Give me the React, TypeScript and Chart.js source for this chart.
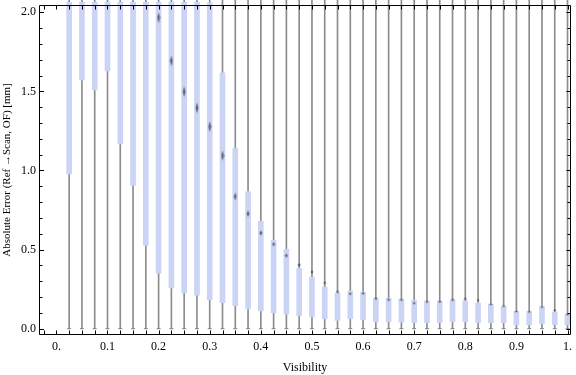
import React, { useEffect, useRef } from "react";
import { Chart, registerables } from "chart.js";
Chart.register(...registerables);

const visibility = [
  0.025, 0.05, 0.075, 0.1, 0.125, 0.15, 0.175, 0.2, 0.225, 0.25,
  0.275, 0.3, 0.325, 0.35, 0.375, 0.4, 0.425, 0.45, 0.475, 0.5,
  0.525, 0.55, 0.575, 0.6, 0.625, 0.65, 0.675, 0.7, 0.725, 0.75,
  0.775, 0.8, 0.825, 0.85, 0.875, 0.9, 0.925, 0.95, 0.975, 1.0,
];
const whiskerLow = [
  0, 0, 0, 0, 0, 0, 0, 0, 0, 0,
  0, 0, 0, 0, 0, 0, 0, 0, 0, 0,
  0, 0, 0, 0, 0, 0, 0, 0, 0, 0,
  0, 0, 0, 0, 0, 0, 0, 0, 0, 0,
];
const whiskerHigh = [
  2.6, 2.6, 2.6, 2.6, 2.6, 2.6, 2.6, 2.6, 2.6, 2.6,
  2.6, 2.6, 2.6, 2.6, 2.6, 2.6, 2.6, 2.6, 2.6, 2.6,
  2.6, 2.6, 2.6, 2.6, 2.6, 2.6, 2.6, 2.6, 2.6, 2.6,
  2.6, 2.6, 2.6, 2.6, 2.6, 2.6, 2.6, 2.6, 2.6, 2.6,
];
const q1 = [
  0.979, 1.573, 1.51, 1.63, 1.168, 0.905, 0.527, 0.351, 0.258, 0.227,
  0.212, 0.183, 0.164, 0.145, 0.126, 0.113, 0.101, 0.093, 0.082, 0.076,
  0.063, 0.053, 0.063, 0.057, 0.044, 0.044, 0.042, 0.038, 0.038, 0.038,
  0.044, 0.044, 0.038, 0.038, 0.038, 0.025, 0.025, 0.032, 0.025, 0.025,
];
const q3 = [
  2.4, 2.4, 2.4, 2.4, 2.4, 2.4, 2.4, 2.4, 2.4, 2.4,
  2.4, 2.06, 1.617, 1.139, 0.866, 0.679, 0.559, 0.502, 0.382, 0.326,
  0.263, 0.225, 0.238, 0.231, 0.193, 0.193, 0.187, 0.181, 0.175, 0.175,
  0.183, 0.176, 0.162, 0.156, 0.143, 0.109, 0.109, 0.143, 0.105, 0.095,
];
const meanValues = [
  2.5, 2.4, 2.35, 2.3, 2.25, 2.2, 2.15, 1.966, 1.693, 1.498,
  1.396, 1.277, 1.094, 0.836, 0.727, 0.605, 0.534, 0.462, 0.403, 0.359,
  0.29, 0.233, 0.221, 0.223, 0.191, 0.183, 0.183, 0.162, 0.171, 0.171,
  0.183, 0.189, 0.18, 0.154, 0.143, 0.109, 0.107, 0.137, 0.116, 0.09,
];
const xMajorStep = 0.1;
const xMinorStep = 0.025;
const yStep = 0.1;
const yLabelStep = 0.5;

const markerCache = new Map<number, HTMLCanvasElement>();
function diamond(h: number): HTMLCanvasElement {
  const key = Math.round(h * 2) / 2;
  let c = markerCache.get(key);
  if (!c) {
    c = document.createElement("canvas");
    const w = 4;
    const H = Math.ceil(key) + 2;
    c.width = w;
    c.height = H;
    const g = c.getContext("2d")!;
    g.fillStyle = "rgba(70,70,75,0.75)";
    g.beginPath();
    g.moveTo(w / 2, (H - key) / 2);
    g.lineTo(w - 0.5, H / 2);
    g.lineTo(w / 2, (H + key) / 2);
    g.lineTo(0.5, H / 2);
    g.closePath();
    g.fill();
    markerCache.set(key, c);
  }
  return c;
}

const near = (v: number, step: number) =>
  Math.abs(v / step - Math.round(v / step)) < 1e-6;

const framePlugin = {
  id: "frame",
  afterDatasetsDraw(chart: any) {
    const { ctx, chartArea: a, scales } = chart;
    const xs = scales.x;
    const ys = scales.y;
    ctx.save();
    ctx.strokeStyle = "#000";
    ctx.lineWidth = 1;
    const L = Math.round(a.left) + 0.5;
    const R = Math.round(a.right) - 0.5;
    const T = Math.round(a.top) + 0.5;
    const B = Math.round(a.bottom) - 0.5;
    ctx.beginPath();
    ctx.rect(L, T, R - L, B - T);
    xs.ticks.forEach((t: any) => {
      const px = Math.round(xs.getPixelForValue(t.value)) + 0.5;
      ctx.moveTo(px, B);
      ctx.lineTo(px, B - 4);
      ctx.moveTo(px, T);
      ctx.lineTo(px, T + 4);
    });
    ys.ticks.forEach((t: any) => {
      const major = near(t.value, yLabelStep);
      const py = Math.round(ys.getPixelForValue(t.value)) + 0.5;
      ctx.moveTo(L, py);
      ctx.lineTo(L + (major ? 4.5 : 3), py);
      ctx.moveTo(R, py);
      ctx.lineTo(R - (major ? 4 : 3), py);
    });
    ctx.stroke();
    ctx.restore();
  },
};

export default function App() {
  const ref = useRef<HTMLCanvasElement>(null);
  useEffect(() => {
    const canvas = ref.current;
    if (!canvas) return;
    const family = '"Liberation Serif", "Times New Roman", serif';
    const font = { family, size: 12 };
    const chart = new Chart(canvas, {
      type: "bar",
      data: {
        datasets: [
          {
            type: "scatter",
            order: 0,
            data: visibility.map((v, i) => ({ x: v, y: meanValues[i] })),
            pointStyle: (c: any) => {
              const i = c.dataIndex;
              const iqr = q3[i] - q1[i];
              return diamond(Math.min(11, 2 + 6 * iqr));
            },
            pointRadius: 3,
            clip: 0,
          } as any,
          {
            type: "scatter",
            order: 1,
            data: visibility.map((v, i) => ({ x: v, y: whiskerLow[i] })),
            pointStyle: "line",
            pointRadius: 2,
            borderColor: "#808080",
            borderWidth: 1,
            clip: 0,
          } as any,
          {
            type: "bar",
            order: 2,
            data: visibility.map((v, i) => ({ x: v, y: [q1[i], q3[i]] })),
            backgroundColor: "rgb(204,212,245)",
            borderWidth: 0,
            barThickness: 5,
            grouped: false,
            clip: { left: 0, right: 0, top: 3, bottom: 0 },
          } as any,
          {
            type: "bar",
            order: 3,
            data: visibility.map((v, i) => ({ x: v, y: [whiskerLow[i], whiskerHigh[i]] })),
            backgroundColor: "#8c8c8c",
            borderWidth: 0,
            barThickness: 1,
            grouped: false,
            clip: { left: 0, right: 0, top: 5, bottom: 0 },
          } as any,
        ],
      },
      options: {
        animation: false,
        responsive: true,
        maintainAspectRatio: false,
        layout: { padding: { top: 4, right: 1, left: 0, bottom: 0 } },
        plugins: { legend: { display: false }, tooltip: { enabled: false } },
        events: [],
        scales: {
          x: {
            type: "linear",
            offset: false,
            min: -0.034,
            max: 1.0068,
            grid: { display: false, drawTicks: false },
            border: { display: false },
            ticks: {
              stepSize: xMinorStep,
              includeBounds: false,
              autoSkip: false,
              maxRotation: 0,
              maxTicksLimit: 200,
              padding: 5,
              color: "#000",
              font,
              callback: (v: any) => {
                const n = Number(v);
                if (!near(n, xMajorStep)) return "";
                if (near(n, 1)) return n.toFixed(0) + ".";
                return n.toFixed(1);
              },
            },
            title: {
              display: true,
              text: "Visibility",
              color: "#000",
              font,
              padding: { top: 0, bottom: 0 },
            },
            afterFit: (s: any) => {
              s.height = 40;
              s.paddingLeft = 0;
              s.paddingRight = 0;
            },
          },
          y: {
            type: "linear",
            min: -0.0397,
            max: 2.046,
            grid: { display: false, drawTicks: false },
            border: { display: false },
            ticks: {
              stepSize: yStep,
              includeBounds: false,
              autoSkip: false,
              maxTicksLimit: 200,
              padding: 3,
              color: "#000",
              font,
              callback: (v: any) => {
                const n = Number(v);
                return near(n, yLabelStep) ? n.toFixed(1) : "";
              },
            },
            title: {
              display: true,
              text: "Absolute Error (Ref \u2192Scan, OF) [mm]",
              color: "#000",
              font: { family, size: 11 },
              padding: { top: 1, bottom: 0 },
            },
            afterFit: (s: any) => {
              s.width = 39;
              s.paddingTop = 0;
              s.paddingBottom = 0;
            },
          },
        },
      },
      plugins: [framePlugin],
    });
    return () => chart.destroy();
  }, []);
  return (
    <div style={{ position: "fixed", left: 0, top: 0, width: 576, height: 375, background: "#fff" }}>
      <canvas ref={ref} />
    </div>
  );
}
